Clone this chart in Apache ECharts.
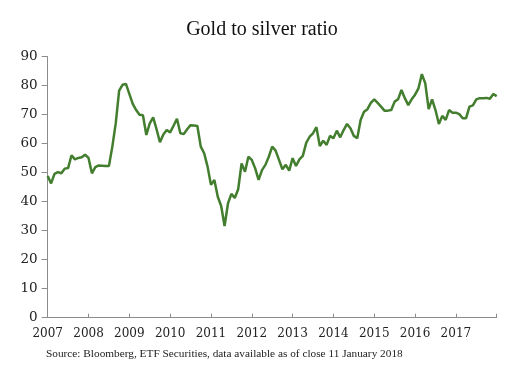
<!DOCTYPE html>
<html>
<head>
<meta charset="utf-8">
<script src="https://cdn.jsdelivr.net/npm/echarts@6/dist/echarts.min.js"></script>
<style>
html,body{margin:0;padding:0;background:#fff;}
#chart{width:524px;height:385px;}
</style>
</head>
<body>
<div id="chart"></div>
<script>
// Monthly gold/silver ratio, Jan 2007 .. Jan 2018
var startYear = 2007;
var ratioValues = [
  48.9, 46.3, 49.6, 50.2, 49.8, 51.4, 51.6, 56.0, 54.6, 55.1, 55.3, 56.2,
  55.1, 49.8, 51.9, 52.5, 52.4, 52.3, 52.3, 59.0, 67.0, 78.3, 80.3, 80.6,
  77.2, 73.7, 71.6, 70.0, 69.8, 63.0, 67.0, 69.1, 65.0, 60.5, 63.2, 64.7,
  63.9, 66.2, 68.6, 63.6, 63.3, 65.0, 66.4, 66.3, 66.1, 59.0, 56.7, 52.1,
  45.8, 47.5, 41.7, 38.5, 31.6, 39.4, 42.7, 41.3, 44.3, 53.2, 50.3, 55.5,
  54.4, 51.5, 47.5, 50.9, 52.7, 55.5, 59.0, 57.6, 54.4, 51.2, 52.7, 50.7,
  55.0, 52.3, 54.6, 55.8, 60.3, 62.4, 63.6, 65.7, 59.2, 61.0, 59.6, 62.7,
  61.9, 64.5, 62.2, 64.7, 66.8, 65.3, 62.7, 61.9, 68.2, 71.0, 71.9, 74.1,
  75.3, 74.1, 72.8, 71.4, 71.4, 71.6, 74.5, 75.3, 78.5, 75.7, 73.3, 75.3,
  76.9, 79.1, 84.0, 80.8, 71.9, 75.3, 71.6, 66.8, 69.6, 68.2, 71.6, 70.7,
  70.7, 70.2, 68.8, 68.8, 72.8, 73.2, 75.3, 75.7, 75.7, 75.8, 75.5, 77.1,
  76.4
];
var yearTicks = [2007, 2008, 2009, 2010, 2011, 2012, 2013, 2014, 2015, 2016, 2017, 2018];
var yTicks = [0, 10, 20, 30, 40, 50, 60, 70, 80, 90];
var titleText = 'Gold to silver ratio';
var sourceText = 'Source: Bloomberg, ETF Securities, data available as of close 11 January 2018';

var seriesData = ratioValues.map(function (v, i) { return [startYear + i / 12, v]; });

var chart = echarts.init(document.getElementById('chart'), null, {renderer: 'canvas'});
var axisColor = '#8c8c8c';

chart.setOption({
  animation: false,
  backgroundColor: '#ffffff',
  title: {
    text: titleText,
    left: 'center',
    top: 15,
    textStyle: {fontFamily: 'Liberation Serif', fontSize: 20, fontWeight: 'normal', color: '#111'}
  },
  grid: {left: 47.7, right: 27.3, top: 56.7, bottom: 67.3, containLabel: false},
  xAxis: {
    type: 'value',
    min: yearTicks[0],
    max: yearTicks[yearTicks.length - 1],
    interval: 1,
    splitLine: {show: false},
    axisLine: {show: true, lineStyle: {color: axisColor, width: 1}},
    axisTick: {show: true, inside: true, length: 4, lineStyle: {color: axisColor}},
    axisLabel: {
      margin: 10,
      fontFamily: 'DejaVu Serif', fontSize: 12, color: '#222',
      formatter: function (v) { return v === yearTicks[yearTicks.length - 1] ? '' : String(v); }
    }
  },
  yAxis: {
    type: 'value',
    min: yTicks[0],
    max: yTicks[yTicks.length - 1],
    interval: 10,
    splitLine: {show: false},
    axisLine: {show: true, lineStyle: {color: axisColor, width: 1}},
    axisTick: {show: true, inside: false, length: 6, lineStyle: {color: axisColor}},
    axisLabel: {margin: 10, fontFamily: 'DejaVu Serif', fontSize: 13.5, color: '#222'}
  },
  graphic: [{
    type: 'text',
    left: 46,
    top: 349,
    style: {text: sourceText, font: '11.3px "Liberation Serif"', fill: '#222'}
  }],
  series: [{
    type: 'line',
    data: seriesData,
    showSymbol: false,
    symbol: 'none',
    lineStyle: {color: '#427e2e', width: 2.5},
    smooth: false
  }]
});
</script>
</body>
</html>
